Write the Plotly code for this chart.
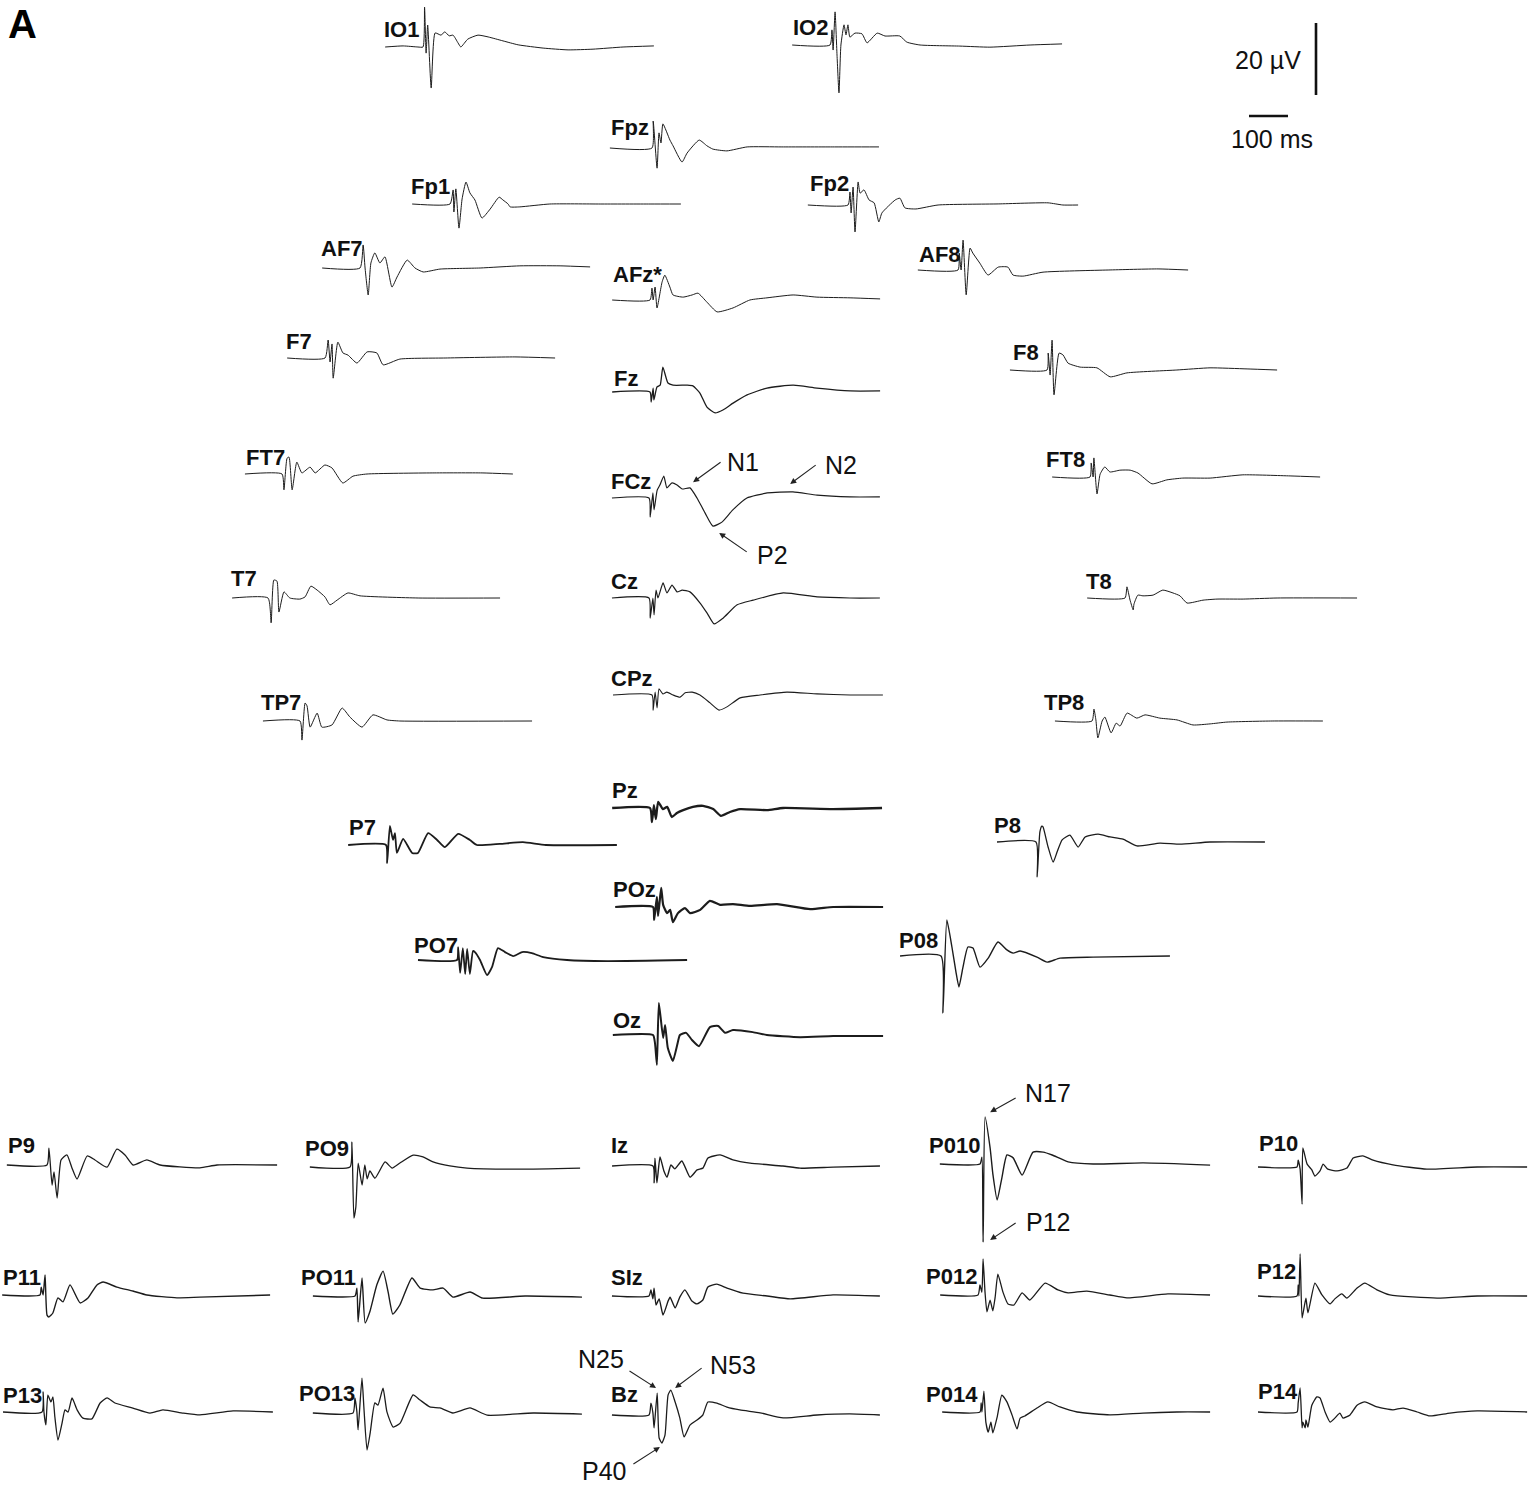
import plotly.graph_objects as go

# ---------------- data: latency (ms) and amplitude (µV, negative plotted upward) ----------------
t_IO1 = [-97, -51, -13, 0, 4, 8, 12, 21, 31, 46, 56, 67, 77, 90, 97, 115, 141, 167, 205, 244, 308, 372, 436, 513, 592]
uv_IO1 = [0, -0.3, 0, 0, -11.1, 1.7, -6.1, 11.4, -3.9, -3.3, -4.2, -3.1, -3.3, -1.1, 0, -2.2, -3.3, -2.8, -1.7, -0.6, 0.3, 0.8, 0.6, 0, -0.3]
t_IO2 = [-97, 0, 5, 8, 13, 18, 23, 28, 36, 41, 46, 51, 64, 82, 95, 121, 141, 179, 197, 231, 333, 410, 513, 595]
uv_IO2 = [0, 0, -4.2, 1.4, -9.2, 2.8, 13.3, 0, -5.6, -2.8, -5.6, -2.2, -3.3, -3.1, -0.6, -3.3, -2.5, -2.5, -0.8, 0, 0.3, 0.6, 0, -0.3]
t_Fpz = [-108, 0, 3, 13, 18, 23, 28, 46, 54, 77, 90, 121, 141, 156, 192, 244, 333, 462, 582]
uv_Fpz = [0, 0, -7.5, 5.6, -4.2, -1.4, -6.7, -2.2, -0.6, 3.9, 1.4, -2.2, -0.6, 0.3, 0.8, -0.3, -0.3, -0.3, -0.3]
t_Fp1 = [-97, 0, 8, 10, 15, 23, 31, 41, 51, 64, 82, 103, 126, 136, 149, 154, 179, 256, 385, 513, 592]
uv_Fp1 = [0, 0, -3.9, 2.2, -4.2, 6.7, -1.4, -6.1, -3.1, -1.1, 3.9, 1.4, -1.9, -1.1, 0, 0.8, 0.8, 0, 0, 0, 0]
t_Fp2 = [-103, 0, 5, 8, 13, 18, 26, 31, 41, 54, 67, 79, 87, 121, 133, 146, 174, 231, 385, 513, 551, 590]
uv_Fp2 = [0, 0, -3.6, 2.2, -5.0, 7.5, -6.4, -3.3, -4.2, -1.4, -0.6, 4.7, 2.2, -1.4, -1.9, 0.8, 1.1, 0, -0.3, -0.6, 0, 0]
t_AF7 = [-97, 0, 8, 13, 21, 28, 38, 51, 64, 82, 95, 121, 141, 162, 205, 308, 410, 513, 590]
uv_AF7 = [0, 0, -6.4, 0, 7.5, -1.4, -4.2, -1.4, -3.1, 5.3, 2.5, -2.2, 0, 1.1, 0.3, 0, -0.6, -0.6, -0.3]
t_AF8 = [-103, 0, 3, 8, 13, 21, 31, 38, 56, 77, 103, 128, 141, 167, 218, 385, 513, 590]
uv_AF8 = [0, 0, -4.7, 0, -8.3, 6.9, -6.1, -4.7, -1.9, 1.4, -0.8, -0.8, 1.4, 1.7, 0.6, 0, -0.3, 0]
t_AFz = [-97, 0, 5, 8, 13, 18, 31, 38, 51, 59, 85, 108, 123, 146, 172, 213, 256, 300, 367, 428, 513, 590]
uv_AFz = [0, 0, -3.3, 0, -3.6, 2.2, -5.0, -6.9, -3.6, -1.4, -0.8, -1.4, -1.9, 0.6, 3.3, 2.2, 0, -0.6, -1.4, -0.8, -0.6, -0.3]
t_F7 = [-97, 0, 8, 13, 18, 21, 33, 46, 59, 82, 108, 133, 149, 192, 308, 487, 590]
uv_F7 = [0, 0, -5.0, 1.1, -3.9, 5.6, -4.4, -1.4, -0.8, 1.4, -1.7, -1.4, 1.9, 0.3, 0, -0.3, 0]
t_F8 = [-95, 0, 3, 8, 13, 18, 31, 41, 54, 85, 128, 162, 205, 333, 418, 513, 590]
uv_F8 = [0, 0, -4.7, 1.4, -8.3, 6.9, -4.7, -4.2, -1.9, -0.8, -0.6, 1.9, 0.8, 0, -0.6, -0.3, 0]
t_Fz = [-97, 0, 3, 8, 10, 18, 26, 33, 46, 59, 95, 110, 128, 146, 167, 187, 213, 249, 300, 367, 428, 513, 590]
uv_Fz = [0, 0, 2.8, -1.1, 2.2, -1.4, -1.9, -6.9, -2.5, -1.9, -1.9, -1.7, 0.3, 4.2, 5.8, 5.0, 3.1, 0.8, -1.1, -1.9, -1.1, -0.3, -0.3]
t_FCz = [-95, 0, 3, 10, 13, 21, 28, 38, 46, 59, 72, 85, 105, 123, 144, 164, 187, 215, 251, 303, 369, 431, 515, 592]
uv_FCz = [0, 0, 5.3, -1.4, 3.3, -2.2, -3.6, -6.1, -2.8, -4.2, -3.6, -2.5, -2.8, 0, 4.2, 7.8, 6.7, 3.3, 0, -1.4, -1.7, -0.8, -0.3, -0.3]
t_Cz = [-95, 0, 3, 10, 13, 18, 23, 36, 46, 59, 72, 85, 105, 131, 149, 167, 190, 226, 267, 344, 431, 515, 592]
uv_Cz = [0, 0, 5.6, 0, 4.7, -2.2, 0, -4.2, -1.4, -3.6, -1.7, -2.2, -1.7, 1.4, 4.2, 7.2, 5.6, 1.9, 0.6, -1.4, -0.3, 0, 0]
t_CPz = [-100, 0, 3, 8, 13, 18, 28, 38, 54, 72, 85, 103, 123, 149, 172, 192, 226, 277, 346, 423, 508, 592]
uv_CPz = [0, 0, 4.2, -0.8, 3.6, -1.7, -0.3, -0.8, 0, 0.6, -0.6, -0.8, 0, 2.2, 4.2, 3.3, 0.8, 0, -0.8, -0.3, 0, 0]
t_FT7 = [-95, 0, 5, 13, 18, 26, 38, 51, 72, 85, 110, 128, 156, 182, 218, 385, 513, 592]
uv_FT7 = [0, 0, 4.4, -4.4, -4.7, 4.4, -3.3, -0.3, -1.9, -0.3, -2.5, -1.7, 2.5, 0.6, 0, -0.3, -0.3, 0]
t_T7 = [-92, 0, 8, 15, 23, 28, 41, 56, 82, 95, 110, 126, 146, 159, 177, 205, 236, 385, 595]
uv_T7 = [0, 0, 6.9, -5.0, -4.7, 3.9, -1.7, 0, 0.3, -0.3, -3.3, -2.2, -0.3, 1.9, 0.6, -1.4, -0.6, 0, 0]
t_TP7 = [-95, 0, 5, 13, 18, 26, 44, 56, 82, 108, 128, 159, 187, 223, 256, 595]
uv_TP7 = [0, 0, 5.3, -5.0, -4.2, 1.7, -2.2, 1.7, 1.1, -3.6, -1.1, 1.7, -1.7, -0.3, 0, 0]
t_FT8 = [-97, 0, 3, 8, 10, 18, 26, 38, 51, 77, 103, 123, 159, 197, 238, 308, 392, 513, 590]
uv_FT8 = [0, 0, -3.9, 0, -5.3, 4.7, -0.8, -2.8, -1.4, -1.9, -1.9, -1.1, 1.9, 0.8, 0.3, 0.3, -0.6, -0.3, 0]
t_T8 = [-97, 0, 5, 13, 21, 23, 33, 46, 72, 97, 123, 141, 159, 200, 236, 303, 390, 595]
uv_T8 = [0, 0, -3.1, 0.6, 3.3, 1.7, -0.8, -0.6, -0.8, -2.2, -1.4, -0.6, 1.4, 0.6, 0.3, 0.3, 0, 0]
t_TP8 = [-95, 0, 5, 10, 15, 26, 33, 49, 62, 72, 90, 115, 136, 174, 218, 259, 303, 346, 462, 592]
uv_TP8 = [0, 0, -3.3, -0.3, 4.7, 0, -1.1, 3.3, 0.6, 1.4, -2.2, -0.8, -1.7, -0.8, -0.3, 1.1, 0.8, 0.3, 0, 0]
t_P7 = [-97, 0, 3, 10, 18, 23, 28, 44, 67, 82, 108, 131, 151, 185, 215, 233, 292, 351, 410, 592]
uv_P7 = [0, 0, 5.0, -5.3, -1.4, -3.3, 2.2, -1.7, 2.2, 2.2, -3.3, -1.4, 0.6, -3.1, -1.4, 0, -0.3, -0.8, 0, 0]
t_PO7 = [-100, 0, 3, 8, 15, 21, 26, 33, 41, 46, 59, 77, 90, 105, 123, 144, 167, 192, 221, 282, 385, 590]
uv_PO7 = [0, 0, -3.6, 3.6, -3.3, 3.9, -3.1, 3.9, -2.5, -2.2, 0, 4.2, 1.9, -3.3, -2.2, -1.1, -2.2, -1.9, -0.8, 0, 0.3, 0]
t_Pz = [-97, 0, 5, 10, 15, 21, 33, 44, 56, 69, 85, 110, 136, 162, 182, 205, 231, 300, 341, 469, 595]
uv_Pz = [0, 0, 3.9, -0.8, 3.1, -1.7, 0.3, -0.3, 2.5, 1.4, 0.6, -0.3, -0.6, 0.3, 2.2, 1.1, 0.3, 0.6, 0, 0.3, 0]
t_POz = [-97, 0, 3, 10, 13, 21, 26, 36, 44, 51, 64, 82, 95, 121, 146, 172, 205, 249, 318, 403, 462, 590]
uv_POz = [0, 0, 3.6, -2.8, 2.5, -5.3, -0.6, 1.7, 0.8, 4.2, 1.7, 0.3, 1.7, 0.8, -1.7, -0.6, -0.8, -0.3, -0.8, 0.6, 0, 0]
t_Oz = [-103, 0, 5, 10, 15, 26, 31, 38, 51, 62, 69, 85, 100, 118, 146, 167, 185, 205, 256, 292, 377, 462, 590]
uv_Oz = [0, 0, 2.2, 8.3, -8.9, 0.8, -2.8, 3.6, 7.2, 2.8, 0, -0.6, 1.4, 3.1, -2.2, -2.5, -0.6, -1.4, -0.8, 0, 0.6, 0.3, 0.3]
t_P8 = [-100, 0, 3, 10, 15, 18, 31, 44, 54, 67, 87, 108, 126, 159, 190, 223, 259, 318, 369, 446, 587]
uv_P8 = [0, 0, 9.7, -2.8, -4.4, -4.2, 1.4, 5.6, 2.8, -0.6, -1.9, 1.4, -1.4, -2.2, -1.4, -0.8, 1.1, 0.3, 0.6, 0, 0]
t_P08 = [-105, 0, 5, 15, 28, 38, 46, 56, 69, 82, 100, 121, 146, 169, 185, 203, 246, 272, 305, 390, 587]
uv_P08 = [0, 0, 15.8, -10.0, -2.5, 4.2, 8.6, 3.3, -2.5, -2.2, 3.1, 0.6, -3.9, -1.7, -0.8, -1.4, 0.3, 1.7, 0.6, 0.3, 0]
t_P9 = [-103, 0, 5, 13, 18, 26, 36, 51, 64, 77, 103, 123, 154, 179, 200, 221, 256, 290, 392, 436, 590]
uv_P9 = [0, 0, -4.7, 5.6, 1.9, 9.2, -1.4, -2.8, 0.8, 3.9, -2.5, -1.4, 0.6, -4.4, -2.8, 0, -1.4, 0, 0.8, 0, 0]
t_PO9 = [-103, 0, 5, 10, 15, 21, 31, 38, 44, 51, 64, 90, 108, 128, 162, 187, 213, 256, 300, 436, 590]
uv_PO9 = [0, 0, -6.9, 14.2, 11.1, -1.1, 5.0, -0.6, 3.3, 1.1, 3.1, -1.4, 0.3, -1.1, -3.3, -2.8, -1.4, -0.3, 0.3, 0.6, 0.3]
t_Iz = [-105, 0, 3, 5, 10, 18, 28, 36, 46, 56, 74, 95, 113, 128, 141, 172, 205, 249, 333, 377, 462, 582]
uv_Iz = [0, 0, 4.7, -2.2, 4.7, -2.5, 1.4, 3.1, -0.3, 0.8, -1.4, 3.1, 1.1, 0.6, -2.2, -3.1, -1.7, -0.8, 0, 0.6, 0.3, 0]
t_P010 = [-103, 0, 5, 8, 13, 26, 33, 44, 56, 69, 85, 108, 136, 162, 185, 226, 290, 418, 590]
uv_P010 = [0, 0, -1.9, 21.7, -13.1, -4.4, 2.8, 10.0, 3.9, -2.5, -1.7, 3.1, -3.3, -3.3, -2.5, -0.6, 0, -0.3, 0.3]
t_P10 = [-100, 0, 3, 8, 13, 15, 26, 38, 46, 59, 67, 79, 103, 128, 144, 169, 195, 246, 333, 462, 590]
uv_P10 = [0, 0, -1.9, 0.6, 10.3, -5.3, -0.8, 0.8, 2.5, 1.1, -0.8, 0.6, 1.1, 0.3, -2.5, -3.1, -1.9, -0.6, 0.6, 0, 0]
t_P11 = [-97, 0, 3, 8, 13, 18, 23, 33, 46, 59, 77, 103, 123, 146, 162, 197, 238, 274, 351, 410, 590]
uv_P11 = [0, 0, -2.2, 0, -5.6, 5.6, 6.1, 5.0, 0.8, 1.9, -2.8, 2.2, 0.8, -2.8, -3.6, -2.2, -1.1, 0, 0.8, 0.6, 0]
t_PO11 = [-108, 0, 5, 8, 18, 26, 38, 56, 72, 85, 97, 115, 146, 167, 200, 226, 251, 295, 328, 436, 582]
uv_PO11 = [0, 0, -2.2, 7.2, -5.0, 7.5, 4.4, -3.1, -6.9, -1.1, 5.0, 2.5, -5.0, -2.2, -1.7, -2.2, 0.3, -1.1, 0.6, 0, 0.3]
t_SIz = [-95, 0, 5, 10, 13, 18, 26, 36, 49, 54, 67, 79, 92, 110, 123, 138, 151, 174, 200, 241, 303, 362, 472, 592]
uv_SIz = [0, 0, -1.7, 0.8, -2.2, 2.5, 0.8, 5.3, 1.4, 0.3, 3.3, 0.3, -1.7, 1.4, 2.2, 1.1, -2.5, -3.3, -2.2, -0.8, 0, 0.8, -0.3, 0]
t_P012 = [-97, 0, 5, 10, 13, 18, 23, 31, 38, 44, 51, 64, 77, 92, 113, 133, 172, 205, 231, 279, 338, 382, 487, 595]
uv_P012 = [0, 0, -2.8, -0.8, -10.0, -0.8, 4.7, 1.4, 4.4, 0.6, -5.8, -0.8, 2.5, 2.8, -0.6, 1.4, -3.3, -1.4, -0.6, -1.1, 0, 0.8, -0.3, 0]
t_P12 = [-100, 0, 3, 5, 8, 13, 18, 23, 28, 46, 64, 85, 97, 115, 128, 154, 174, 205, 238, 359, 462, 590]
uv_P12 = [0, 0, -3.1, 0, -11.7, 6.1, 3.3, 0.6, 4.7, -3.6, -0.3, 2.2, 0.8, -0.6, 0.6, -2.2, -3.6, -1.7, -0.3, 0.6, 0, 0]
t_P13 = [-100, 0, 3, 5, 10, 15, 23, 28, 33, 41, 51, 59, 67, 77, 90, 105, 128, 149, 167, 187, 233, 277, 310, 362, 405, 490, 592]
uv_P13 = [0, 0, -5.6, 0, 3.6, -4.7, -2.8, -4.2, 1.4, 7.8, 3.3, -0.6, 0, -3.9, -0.6, 1.7, 1.9, -2.5, -3.9, -2.5, -1.1, 0.3, -0.6, 0.3, 0.8, -0.3, 0]
t_PO13 = [-103, 0, 5, 10, 13, 23, 28, 36, 44, 56, 64, 77, 87, 103, 121, 154, 172, 197, 223, 256, 300, 344, 462, 587]
uv_PO13 = [0, 0, -4.2, -0.3, 4.7, -9.7, -1.4, 10.3, 5.6, -2.8, -2.2, -6.9, -0.3, 3.9, 2.8, -5.0, -3.6, -1.7, -1.4, 0, -1.4, 0.6, 0, 0.3]
t_Bz = [-95, 0, 5, 10, 13, 21, 26, 33, 41, 49, 56, 67, 79, 90, 105, 123, 138, 151, 174, 200, 233, 285, 344, 431, 515, 592]
uv_Bz = [0, 0, -3.3, -0.6, 3.6, -6.1, 6.4, 7.8, 5.6, -5.6, -6.9, -3.6, 0.8, 6.1, 2.8, 1.4, 0, -3.6, -3.3, -2.2, -1.4, -0.6, 0.8, 0, -0.3, 0]
t_P014 = [-97, 0, 3, 5, 10, 15, 21, 28, 33, 44, 56, 69, 82, 95, 103, 115, 146, 174, 205, 249, 333, 418, 505, 590]
uv_P014 = [0, 0, -2.5, 0, -5.8, 2.8, 5.6, 2.8, 5.8, 1.4, -4.7, -2.8, 0.8, 4.7, 1.7, 1.1, -1.1, -2.8, -1.4, 0, 0.8, 0.3, 0, 0]
t_P14 = [-100, 0, 3, 8, 13, 15, 21, 23, 28, 38, 51, 59, 72, 85, 97, 110, 118, 136, 154, 174, 205, 246, 272, 308, 341, 392, 462, 590]
uv_P14 = [0, 0, -2.5, -6.7, 4.4, 2.8, 4.4, 2.2, 4.2, -1.9, -4.2, -3.9, 0, 2.8, 1.7, 0.3, 1.7, 0.8, -1.9, -2.8, -1.4, -0.6, -1.1, 0, 1.1, 0.3, -0.3, 0]

# scale bar values
scale_uv = 20
scale_ms = 100

# component labels: (channel, text, latency ms, amplitude µV)
peaks = [
    ("FCz", "N1", 113, -4.4), ("FCz", "N2", 362, -3.9), ("FCz", "P2", 180, 9.7),
    ("P010", "N17", 26, -14.4), ("P010", "P12", 26, 21.1),
    ("Bz", "N25", 18, -7.5), ("Bz", "N53", 67, -7.5), ("Bz", "P40", 28, 8.9),
]

channels = [
    ("IO1", t_IO1, uv_IO1), ("IO2", t_IO2, uv_IO2), ("Fpz", t_Fpz, uv_Fpz),
    ("Fp1", t_Fp1, uv_Fp1), ("Fp2", t_Fp2, uv_Fp2), ("AF7", t_AF7, uv_AF7),
    ("AF8", t_AF8, uv_AF8), ("AFz*", t_AFz, uv_AFz), ("F7", t_F7, uv_F7),
    ("F8", t_F8, uv_F8), ("Fz", t_Fz, uv_Fz), ("FCz", t_FCz, uv_FCz),
    ("FT7", t_FT7, uv_FT7), ("FT8", t_FT8, uv_FT8), ("Cz", t_Cz, uv_Cz),
    ("T7", t_T7, uv_T7), ("T8", t_T8, uv_T8), ("CPz", t_CPz, uv_CPz),
    ("TP7", t_TP7, uv_TP7), ("TP8", t_TP8, uv_TP8), ("Pz", t_Pz, uv_Pz),
    ("P7", t_P7, uv_P7), ("P8", t_P8, uv_P8), ("POz", t_POz, uv_POz),
    ("PO7", t_PO7, uv_PO7), ("P08", t_P08, uv_P08), ("Oz", t_Oz, uv_Oz),
    ("P9", t_P9, uv_P9), ("PO9", t_PO9, uv_PO9), ("Iz", t_Iz, uv_Iz),
    ("P010", t_P010, uv_P010), ("P10", t_P10, uv_P10), ("P11", t_P11, uv_P11),
    ("PO11", t_PO11, uv_PO11), ("SIz", t_SIz, uv_SIz), ("P012", t_P012, uv_P012),
    ("P12", t_P12, uv_P12), ("P13", t_P13, uv_P13), ("PO13", t_PO13, uv_PO13),
    ("Bz", t_Bz, uv_Bz), ("P014", t_P014, uv_P014), ("P14", t_P14, uv_P14),
]

# ---------------- layout (page positions in px) ----------------
W, H = 1528, 1485
PX_PER_MS = 0.39      # 100 ms -> 39 px
PX_PER_UV = 3.6       # 20 µV  -> 72 px
HALF = 130            # half height of each channel strip (px)
FONT = "Liberation Sans, Arial, Helvetica, sans-serif"
INK = "#1c1c1c"

# name: (stimulus-onset x, baseline y, label left edge, label baseline, line width)
place = {
    "IO1": (423, 47, 383, 39, 1.0), "IO2": (830, 45, 792, 37, 1.0),
    "Fpz": (652, 148, 610, 137, 1.0), "Fp1": (450, 204, 410, 196, 1.0),
    "Fp2": (848, 205, 809, 193, 1.0), "AF7": (360, 268, 320, 258, 1.0),
    "AF8": (958, 270, 918, 264, 1.0), "AFz*": (650, 300, 612, 284, 1.0),
    "F7": (325, 358, 285, 351, 1.0), "F8": (1047, 370, 1012, 362, 1.0),
    "Fz": (650, 392, 613, 388, 1.3), "FCz": (649, 498, 610, 491, 1.2),
    "FT7": (282, 474, 245, 467, 1.0), "FT8": (1090, 477, 1045, 469, 1.0),
    "Cz": (649, 598, 610, 591, 1.2), "T7": (268, 598, 230, 588, 1.0),
    "T8": (1125, 598, 1085, 591, 1.0), "CPz": (652, 695, 610, 688, 1.1),
    "TP7": (300, 721, 260, 712, 1.0), "TP8": (1092, 721, 1043, 712, 1.0),
    "Pz": (650, 808, 611, 800, 2.3), "P7": (386, 845, 348, 837, 1.8),
    "P8": (1036, 842, 993, 835, 1.3), "POz": (653, 907, 612, 899, 2.2),
    "PO7": (457, 960, 413, 955, 1.8), "P08": (941, 956, 898, 950, 1.4),
    "Oz": (653, 1035, 612, 1030, 2.0), "P9": (47, 1165, 7, 1155, 1.3),
    "PO9": (350, 1167, 304, 1158, 1.3), "Iz": (653, 1166, 610, 1155, 1.4),
    "P010": (980, 1164, 928, 1155, 1.4), "P10": (1297, 1167, 1258, 1153, 1.3),
    "P11": (40, 1295, 2, 1287, 1.4), "PO11": (355, 1296, 300, 1287, 1.4),
    "SIz": (649, 1296, 610, 1287, 1.4), "P012": (978, 1295, 925, 1286, 1.3),
    "P12": (1297, 1296, 1256, 1281, 1.3), "P13": (42, 1412, 2, 1405, 1.3),
    "PO13": (353, 1413, 298, 1403, 1.3), "Bz": (649, 1415, 610, 1404, 1.3),
    "P014": (980, 1412, 925, 1404, 1.3), "P14": (1297, 1412, 1257, 1401, 1.3),
}

# peak-label arrows: tail offset (px) and text centre offset from arrow head (px)
peak_style = {
    "N1": (29, -21, 50, -20), "N2": (27, -20, 51, -19), "P2": (29, 20, 53, 22),
    "N17": (27, -15, 58, -19), "P12": (27, -18, 58, -18),
    "N25": (-28, -18, -55, -29), "N53": (28, -21, 58, -23), "P40": (-28, 18, -56, 24),
}

fig = go.Figure()
lay = {}
annotations = []
ref = {}


def add_axes(k, x0, y0, left_ms, right_ms, up_px, down_px):
    sx = "" if k == 1 else str(k)
    xl = max(0.0, x0 + left_ms * PX_PER_MS)
    xr = min(float(W), x0 + right_ms * PX_PER_MS)
    yt = max(0.0, y0 - up_px)
    yb = min(float(H), y0 + down_px)
    lay["xaxis" + sx] = dict(domain=[xl / W, xr / W],
                             range=[(xl - x0) / PX_PER_MS, (xr - x0) / PX_PER_MS],
                             visible=False, fixedrange=True, anchor="y" + sx)
    lay["yaxis" + sx] = dict(domain=[1 - yb / H, 1 - yt / H],
                             range=[(yb - y0) / PX_PER_UV, -(y0 - yt) / PX_PER_UV],
                             visible=False, fixedrange=True, anchor="x" + sx)
    return "x" + sx, "y" + sx


k = 0
for name, t, uv in channels:
    k += 1
    x0, y0, ll, lb, lw = place[name]
    xa, ya = add_axes(k, x0, y0, -160, 610, HALF, HALF)
    ref[name] = (xa, ya)
    fig.add_trace(go.Scatter(x=t, y=uv, xaxis=xa, yaxis=ya, mode="lines",
                             line=dict(color=INK, width=lw, shape="spline", smoothing=0.5),
                             hoverinfo="skip", showlegend=False))
    annotations.append(dict(text="<b>%s</b>" % name, x=ll / W, y=1 - lb / H,
                            xref="paper", yref="paper", xanchor="left", yanchor="bottom",
                            xshift=-1, yshift=-5, showarrow=False,
                            font=dict(size=22, family=FONT, color="#111")))

# peak annotations
for ch, txt, lat, amp in peaks:
    xa, ya = ref[ch]
    ax, ay, tx, ty = peak_style[txt]
    annotations.append(dict(x=lat, y=amp, xref=xa, yref=ya, text="", showarrow=True,
                            ax=ax, ay=ay, arrowhead=2, arrowsize=1.1, arrowwidth=1.1,
                            arrowcolor="#222", standoff=0))
    annotations.append(dict(x=lat, y=amp, xref=xa, yref=ya, text=txt, showarrow=False,
                            xshift=tx, yshift=-ty, xanchor="center", yanchor="middle",
                            font=dict(size=25, family=FONT, color="#111")))

# scale bars (drawn on their own axes with the same scale)
k += 1
xa, ya = add_axes(k, 1316, 95, -20, 20, 90, 10)
fig.add_trace(go.Scatter(x=[0, 0], y=[0, -scale_uv], xaxis=xa, yaxis=ya, mode="lines",
                         line=dict(color="#111", width=2.6), hoverinfo="skip", showlegend=False))
k += 1
xa, ya = add_axes(k, 1249, 116, -20, 130, 10, 10)
fig.add_trace(go.Scatter(x=[0, scale_ms], y=[0, 0], xaxis=xa, yaxis=ya, mode="lines",
                         line=dict(color="#111", width=2.4), hoverinfo="skip", showlegend=False))
annotations.append(dict(text="%d µV" % scale_uv, x=1268 / W, y=1 - 60 / H, xref="paper", yref="paper",
                        showarrow=False, xanchor="center", yanchor="middle",
                        font=dict(size=25, family=FONT, color="#111")))
annotations.append(dict(text="%d ms" % scale_ms, x=1272 / W, y=1 - 139 / H, xref="paper", yref="paper",
                        showarrow=False, xanchor="center", yanchor="middle",
                        font=dict(size=25, family=FONT, color="#111")))

# panel letter
annotations.append(dict(text="<b>A</b>", x=6 / W, y=1.0, xref="paper", yref="paper",
                        xanchor="left", yanchor="top", yshift=0, showarrow=False,
                        font=dict(size=40, family=FONT, color="#000")))

fig.update_layout(width=W, height=H, margin=dict(l=0, r=0, t=0, b=0),
                  paper_bgcolor="white", plot_bgcolor="rgba(0,0,0,0)",
                  showlegend=False, annotations=annotations, **lay)

fig.write_html("out.html", config={"displayModeBar": False})
